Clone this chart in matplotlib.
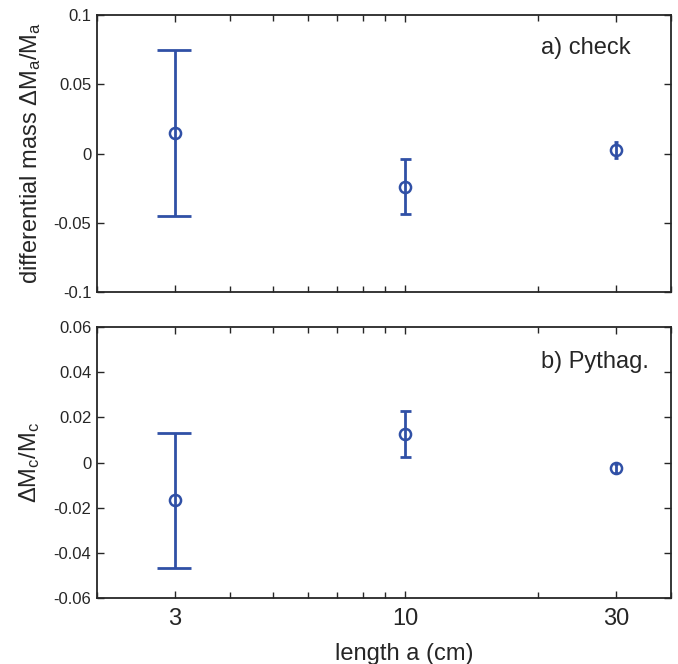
import numpy as np
import matplotlib
matplotlib.use("Agg")
import matplotlib.pyplot as plt
from matplotlib.ticker import FixedLocator, NullFormatter, FixedFormatter

plt.rcParams['font.family'] = ['Liberation Sans', 'DejaVu Sans']

# data
lengths = [3, 10, 30]
check_vals = [0.015, -0.024, 0.0025]
check_err = [0.060, 0.020, 0.006]
pyth_vals = [-0.0167, 0.0126, -0.0025]
pyth_err = [0.0298, 0.0100, 0.0020]
xticks = [3, 10, 30]
xticklabels = ["3", "10", "30"]
minor_ticks = [2, 4, 5, 6, 7, 8, 9, 20, 40]

blue = '#3050a6'
dark = '#262626'

fig = plt.figure(figsize=(6.78, 6.64), dpi=100)
ax1 = fig.add_axes([0.1431, 0.5602, 0.8466, 0.4172])
ax2 = fig.add_axes([0.1431, 0.0994, 0.8466, 0.4081])

tee = (max(lengths) - min(lengths)) / 100.0

def draw(ax, vals, errs):
    x = np.array(lengths, float)
    v = np.array(vals)
    e = np.array(errs)
    ax.vlines(x, v - e, v + e, color=blue, lw=2.0)
    ax.hlines(v + e, x - tee, x + tee, color=blue, lw=2.0)
    ax.hlines(v - e, x - tee, x + tee, color=blue, lw=2.0)
    ax.plot(x, v, 'o', ms=8.0, mfc='none', mec=blue, mew=1.8, ls='none', zorder=3)
    ax.set_xscale('log')
    ax.set_xlim(2, 40)
    ax.xaxis.set_major_locator(FixedLocator(xticks))
    ax.xaxis.set_minor_locator(FixedLocator(minor_ticks))
    ax.xaxis.set_minor_formatter(NullFormatter())
    ax.tick_params(which='both', direction='in', top=True, right=True,
                   color=dark, width=1.0)
    ax.tick_params(which='major', length=5)
    ax.tick_params(which='minor', length=4)
    ax.tick_params(axis='y', labelsize=12, labelcolor=dark, pad=4)
    ax.tick_params(axis='x', labelsize=17, labelcolor=dark, pad=7)
    for s in ax.spines.values():
        s.set_color(dark)
        s.set_linewidth(1.3)

draw(ax1, check_vals, check_err)
draw(ax2, pyth_vals, pyth_err)

ax1.set_ylim(-0.1, 0.1)
ax1.set_yticks([-0.1, -0.05, 0, 0.05, 0.1])
ax1.set_yticklabels(["-0.1", "-0.05", "0", "0.05", "0.1"])
ax1.xaxis.set_major_formatter(NullFormatter())

ax2.set_ylim(-0.06, 0.06)
ax2.set_yticks([-0.06, -0.04, -0.02, 0, 0.02, 0.04, 0.06])
ax2.set_yticklabels(["-0.06", "-0.04", "-0.02", "0", "0.02", "0.04", "0.06"])
ax2.xaxis.set_major_formatter(FixedFormatter(xticklabels))

ax1.set_ylabel("differential mass ΔM$\\mathregular{_a}$/M$\\mathregular{_a}$",
               fontsize=17, color=dark, labelpad=8)
ax2.set_ylabel("ΔM$\\mathregular{_c}$/M$\\mathregular{_c}$", fontsize=17, color=dark, labelpad=8)
ax2.set_xlabel("length a (cm)", fontsize=17, color=dark)
ax2.xaxis.set_label_coords(0.535, -0.165)

ax1.text(0.93, 0.88, "a) check", transform=ax1.transAxes, ha='right', va='center',
         fontsize=17, color=dark)
ax2.text(0.962, 0.87, "b) Pythag.", transform=ax2.transAxes, ha='right', va='center',
         fontsize=17, color=dark)

fig.savefig("out.png", dpi=100)
